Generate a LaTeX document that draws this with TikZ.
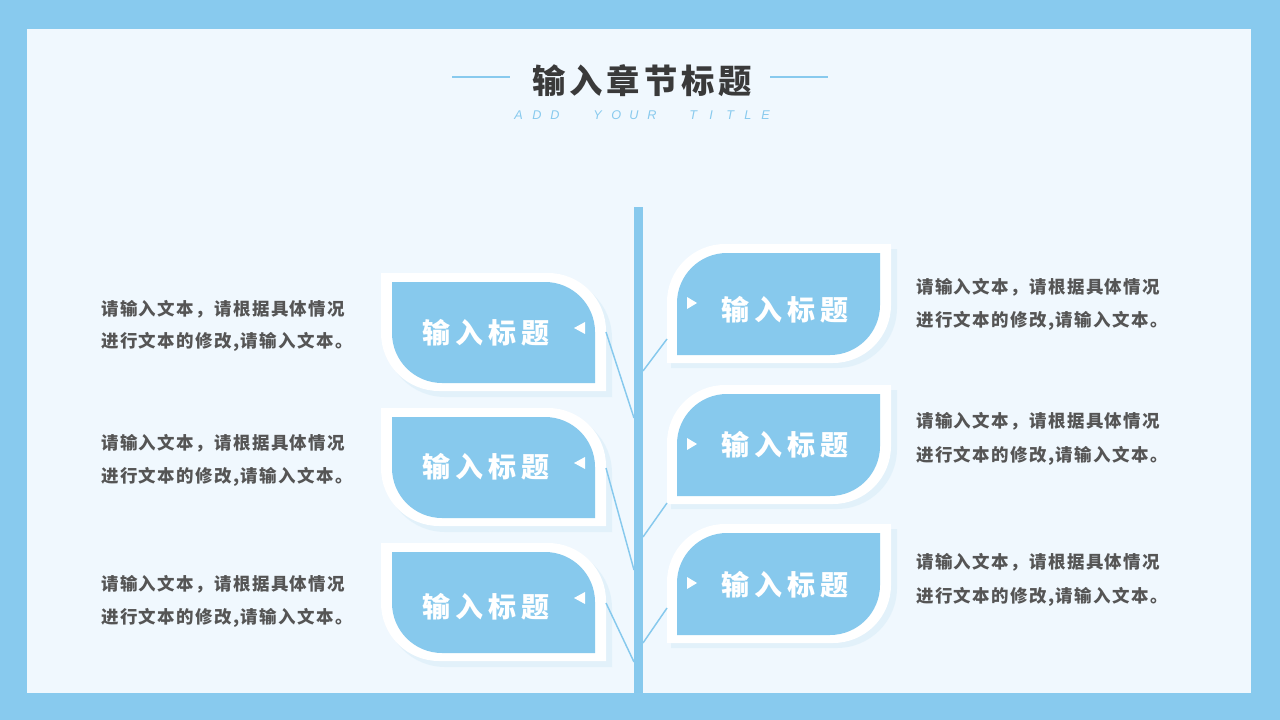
\documentclass[tikz,border=0pt]{standalone}
\usepackage{fontspec}
\setmainfont{Noto Sans CJK SC}
\newfontfamily\subfont{Liberation Sans}
\definecolor{frameblue}{HTML}{88CAEE}
\definecolor{panel}{HTML}{F0F8FE}
\definecolor{leafblue}{HTML}{87C9ED}
\definecolor{bodygray}{HTML}{555555}
\definecolor{titlegray}{HTML}{3A3A3A}
\definecolor{shadowblue}{HTML}{D6ECF8}
% leaf rounded at top-right and bottom-left
\newcommand\leafL[5]{(#1,#2) -- ({#3-#5},#2) .. controls ({#3-0.448*#5},#2) and (#3,{#2+0.448*#5}) .. (#3,{#2+#5}) -- (#3,#4) -- ({#1+#5},#4) .. controls ({#1+0.448*#5},#4) and (#1,{#4-0.448*#5}) .. (#1,{#4-#5}) -- cycle}
% leaf rounded at top-left and bottom-right
\newcommand\leafR[5]{({#1+#5},#2) -- (#3,#2) -- (#3,{#4-#5}) .. controls (#3,{#4-0.448*#5}) and ({#3-0.448*#5},#4) .. ({#3-#5},#4) -- (#1,#4) -- (#1,{#2+#5}) .. controls (#1,{#2+0.448*#5}) and ({#1+0.448*#5},#2) .. ({#1+#5},#2) -- cycle}
\tikzset{
  leaftext/.style={text=white,font={\fontsize{21}{24}\selectfont\bfseries\addfontfeature{LetterSpace=17}},inner sep=0pt},
  bodytext/.style={text=bodygray,font={\fontsize{13.1}{16}\selectfont\bfseries\addfontfeature{LetterSpace=8}},inner sep=0pt,anchor=west},
  sublet/.style={text=frameblue,font={\subfont\itshape\fontsize{9.5}{10}\selectfont},inner sep=0pt,anchor=west},
  conn/.style={draw=leafblue,line width=1.1pt},
  tri/.style={fill=white,draw=none},
  shadowfill/.style={fill=shadowblue,opacity=0.5}
}
\begin{document}
\begin{tikzpicture}[x=0.75pt,y=-0.75pt]
\useasboundingbox (0,0) rectangle (1280,720);
\fill[frameblue] (0,0) rectangle (1280,720);
\fill[panel] (27,29) rectangle (1251,693);
% title
\node[text=titlegray,font={\fontsize{25}{28}\selectfont\bfseries\addfontfeature{LetterSpace=12}},inner sep=0pt] (title) at (642,80.5) {输入章节标题};
\coordinate (tl1) at (452,77); \coordinate (tl2) at (510,77);
\coordinate (tr1) at (770,77); \coordinate (tr2) at (828,77);
\draw[frameblue,line width=1.1pt] (tl1) -- (tl2);
\draw[frameblue,line width=1.1pt] (tr1) -- (tr2);
\foreach \l/\x in {A/514,D/532,D/550,Y/593,O/611,U/629,R/647,T/689,I/709,T/726,L/744,E/761}{
  \node[sublet] at (\x,115) {\l};
}
% spine
\fill[leafblue] (634,207) rectangle (643,693);
% left leaves
\foreach \y/\i in {273/1,408/2,543/3}{
  \fill[shadowfill] \leafL{385}{\y+5}{612}{\y+124}{60};
  \fill[white] \leafL{381}{\y}{606}{\y+118}{58};
  \fill[leafblue] \leafL{392}{\y+9}{595}{\y+110}{50};
  \fill[tri] (574,\y+55) -- (585,\y+49) -- (585,\y+61) -- cycle;
}
\node[leaftext] (L1) at (486,333) {输入标题};
\node[leaftext] (L2) at (486,467) {输入标题};
\node[leaftext] (L3) at (486,607) {输入标题};
% right leaves
\foreach \y/\i in {244/1,385/2,524/3}{
  \fill[shadowfill] \leafR{671}{\y+5}{897}{\y+124}{60};
  \fill[white] \leafR{667}{\y}{891}{\y+119}{58};
  \fill[leafblue] \leafR{677}{\y+9}{880}{\y+111}{50};
  \fill[tri] (697,\y+59) -- (687,\y+53) -- (687,\y+65) -- cycle;
}
\node[leaftext] (R1) at (785,310) {输入标题};
\node[leaftext] (R2) at (785,445) {输入标题};
\node[leaftext] (R3) at (785,585) {输入标题};
% connectors
\coordinate (la1) at (606,332); \coordinate (lb1) at (634,418);
\coordinate (la2) at (606,468); \coordinate (lb2) at (634,570);
\coordinate (la3) at (606,603); \coordinate (lb3) at (634,662);
\coordinate (ra1) at (643,371); \coordinate (rb1) at (667,339);
\coordinate (ra2) at (643,537); \coordinate (rb2) at (667,503);
\coordinate (ra3) at (643,643); \coordinate (rb3) at (667,608);
\draw[conn] (la1) -- (lb1);
\draw[conn] (la2) -- (lb2);
\draw[conn] (la3) -- (lb3);
\draw[conn] (ra1) -- (rb1);
\draw[conn] (ra2) -- (rb2);
\draw[conn] (ra3) -- (rb3);
% body texts
\node[bodytext] (tl1a) at (101,309) {请输入文本，请根据具体情况};
\node[bodytext] (tl1b) at (101,342) {进行文本的修改,请输入文本。};
\node[bodytext] (tl2a) at (101,443) {请输入文本，请根据具体情况};
\node[bodytext] (tl2b) at (101,477) {进行文本的修改,请输入文本。};
\node[bodytext] (tl3a) at (101,584) {请输入文本，请根据具体情况};
\node[bodytext] (tl3b) at (101,618) {进行文本的修改,请输入文本。};
\node[bodytext] (tr1a) at (916,287) {请输入文本，请根据具体情况};
\node[bodytext] (tr1b) at (916,321) {进行文本的修改,请输入文本。};
\node[bodytext] (tr2a) at (916,421) {请输入文本，请根据具体情况};
\node[bodytext] (tr2b) at (916,456) {进行文本的修改,请输入文本。};
\node[bodytext] (tr3a) at (916,562) {请输入文本，请根据具体情况};
\node[bodytext] (tr3b) at (916,597) {进行文本的修改,请输入文本。};
\end{tikzpicture}
\end{document}
